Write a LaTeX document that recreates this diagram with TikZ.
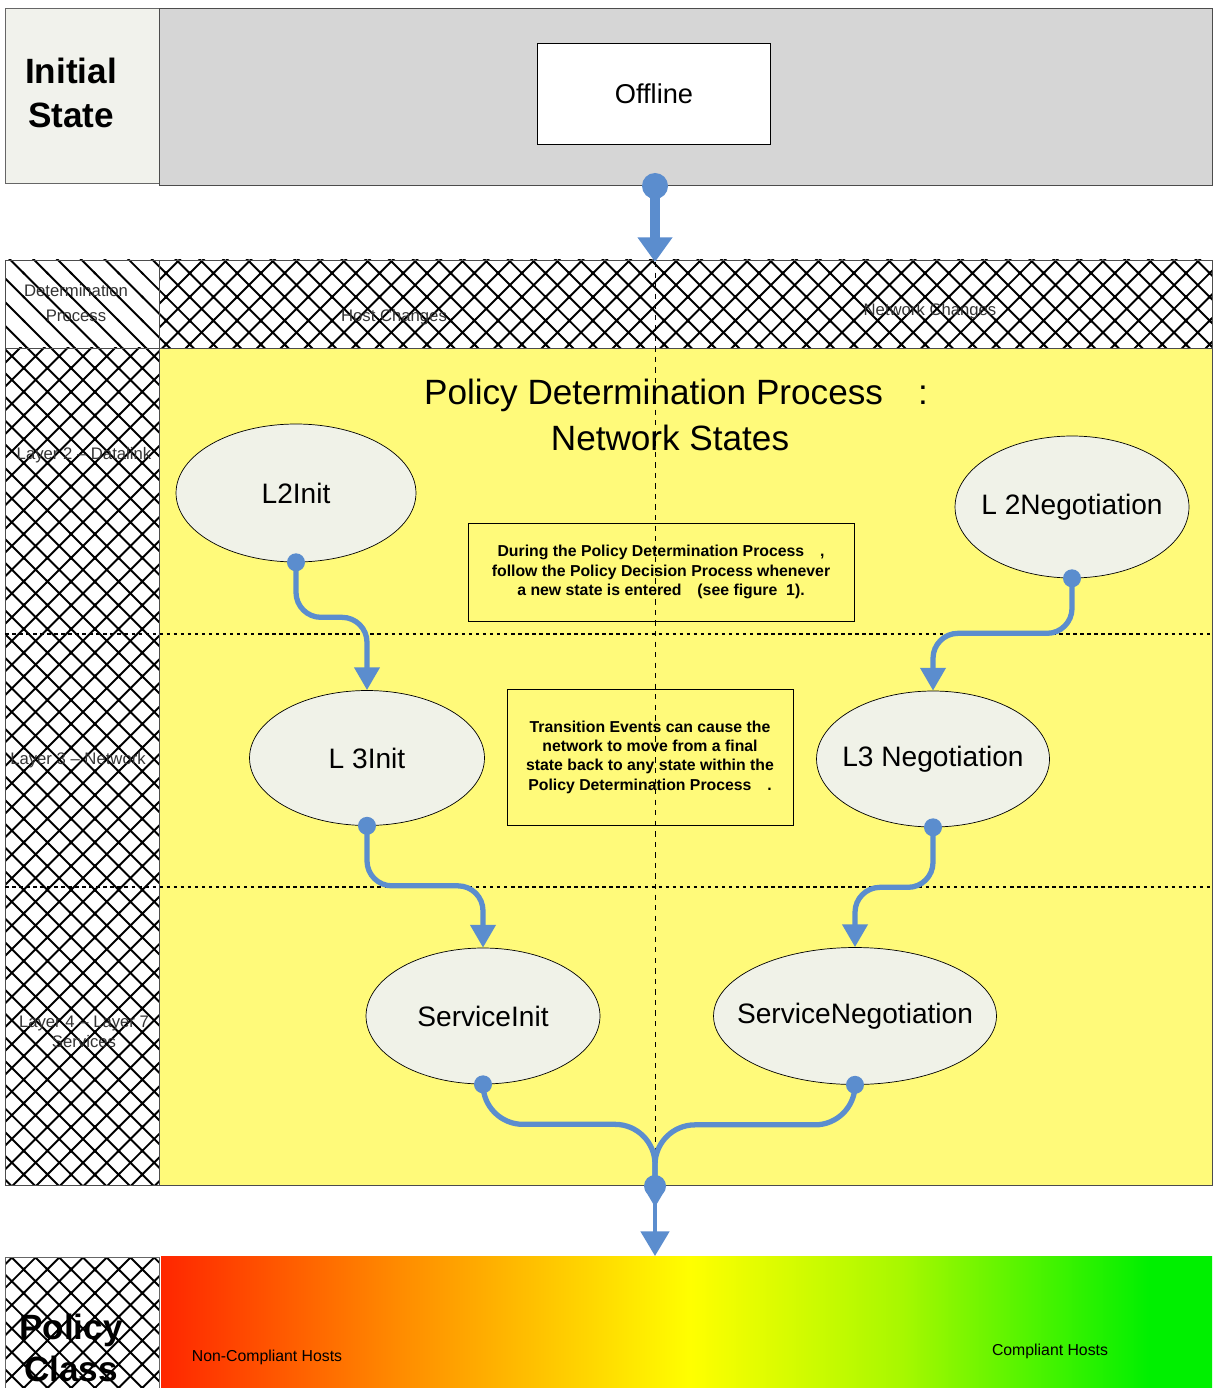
\documentclass[tikz,border=0pt]{standalone}
\usepackage{fontspec}
\setmainfont{Liberation Sans}
\usetikzlibrary{arrows.meta,patterns,shapes.geometric,positioning}

\definecolor{flowblue}{RGB}{91,141,206}
\definecolor{lanefill}{RGB}{255,250,122}
\definecolor{statefill}{RGB}{240,242,232}
\definecolor{bandgray}{RGB}{214,214,214}
\definecolor{hdrfill}{RGB}{241,242,236}
\definecolor{noncomp}{RGB}{255,38,0}
\definecolor{midorange}{RGB}{255,140,0}
\definecolor{midyellow}{RGB}{255,255,0}
\definecolor{midlime}{RGB}{168,248,0}
\definecolor{compgreen}{RGB}{0,240,0}

\pgfdeclarehorizontalshading{compliance}{100bp}{color(0bp)=(noncomp); color(25bp)=(noncomp); color(36.4bp)=(midorange); color(50.2bp)=(midyellow); color(60.2bp)=(midlime); color(72bp)=(compgreen); color(100bp)=(compgreen)}

\pgfdeclarepatternformonly{diamondmesh}{\pgfpoint{-1pt}{-1pt}}{\pgfpoint{14.5pt}{14.5pt}}{\pgfpoint{13.5pt}{13.5pt}}{
	\pgfsetlinewidth{1.1pt}
	\pgfpathmoveto{\pgfqpoint{-1pt}{-1pt}}\pgfpathlineto{\pgfqpoint{14.5pt}{14.5pt}}
	\pgfpathmoveto{\pgfqpoint{-1pt}{14.5pt}}\pgfpathlineto{\pgfqpoint{14.5pt}{-1pt}}
	\pgfusepath{stroke}}
\pgfdeclarepatternformonly{widenwlines}{\pgfpoint{-1pt}{-1pt}}{\pgfpoint{14.5pt}{14.5pt}}{\pgfpoint{13.5pt}{13.5pt}}{
	\pgfsetlinewidth{1.1pt}
	\pgfpathmoveto{\pgfqpoint{-1pt}{14.5pt}}\pgfpathlineto{\pgfqpoint{14.5pt}{-1pt}}
	\pgfusepath{stroke}}

\tikzset{
	netstate/.style={ellipse,draw,thin,fill=statefill,inner xsep=-1.6cm,inner ysep=0,font=\fontsize{16}{18}\selectfont},
	notebox/.style={draw,thin,align=center,inner sep=0,font=\bfseries\fontsize{9}{11}\selectfont},
	lanelabel/.style={align=center,text=black!80,font=\fontsize{9.5}{14.5}\selectfont},
	biglabel/.style={align=center,font=\bfseries\fontsize{20}{25}\selectfont},
	flow/.style={draw=flowblue,line width=3pt,rounded corners=0.5cm,-{Triangle[width=14pt,length=13pt]}},
	port/.style={fill=flowblue},
	lanediv/.style={line width=0.7pt,dash pattern=on 2pt off 2pt}
}

\begin{document}
\begin{tikzpicture}[x=0.02cm,y=-0.02cm]
	\useasboundingbox (0,0) rectangle (1215,1388);
	\fill[white] (0,0) rectangle (1215,1388);
	
	%%% initial state band
	\draw[black!60,fill=hdrfill] (5,8) rectangle (159,183);
	\draw[black!70,fill=bandgray] (159,8) rectangle (1212,185);
	\node[biglabel] (initial) at (71,93) {Initial\\State};
	\node[draw,thin,fill=white,minimum width=4.66cm,minimum height=2.02cm,font=\fontsize{15.5}{18}\selectfont] (offline) at (654,94) {Offline};
	
	%%% lanes of the determination process
	\draw[black!70,pattern=widenwlines] (5,260) rectangle (159,348);
	\draw[black!70,pattern=diamondmesh] (159,260) rectangle (1212,348);
	\draw[black!70,pattern=diamondmesh] (5,348) rectangle (159,1185);
	\draw[black!70,fill=lanefill] (159,348) rectangle (1212,1185);
	\draw[lanediv] (5,634) -- (1212,634);
	\draw[lanediv] (5,887) -- (1212,887);
	\draw[dashed,thin] (655,262) -- (655,1185);
	
	\node[lanelabel] (detproc) at (76,303) {Determination\\Process};
	\node[lanelabel] (hostchg) at (394,317) {Host Changes};
	\node[lanelabel] (netchg) at (930,311) {Network Changes};
	\node[lanelabel] (layer2) at (84,455) {Layer 2 -- Datalink};
	\node[lanelabel] (layer3) at (78,760) {Layer 3 -- Network};
	\node[lanelabel,font=\fontsize{9.5}{11.3}\selectfont] (layer47) at (84,1032) {Layer 4 -- Layer 7\\Services};
	
	%%% title
	\node[font=\fontsize{20}{24}\selectfont] (title) at (676,395) {Policy Determination Process\hspace{20pt}:};
	\node[font=\fontsize{20}{24}\selectfont] (subtitle) at (670,438) {Network States};
	
	%%% states
	\node[netstate,minimum width=4.8cm,minimum height=2.76cm] (l2init) at (296,493) {L2Init};
	\node[netstate,minimum width=4.68cm,minimum height=2.84cm] (l2neg) at (1072,507) {L 2Negotiation};
	\node[netstate,minimum width=4.7cm,minimum height=2.7cm] (l3init) at (367,758) {L 3Init};
	\node[netstate,minimum width=4.66cm,minimum height=2.72cm] (l3neg) at (933,759) {L3 Negotiation};
	\node[netstate,minimum width=4.68cm,minimum height=2.72cm] (serviceinit) at (483,1016) {ServiceInit};
	\node[netstate,minimum width=5.66cm,minimum height=2.74cm] (serviceneg) at (855,1016) {ServiceNegotiation};
	
	%%% notes
	\node[notebox,minimum width=7.72cm,minimum height=1.96cm] (note1) at (661,572) {During the Policy Determination Process\quad,\\follow the Policy Decision Process whenever\\a new state is entered\quad(see figure\ \ 1).};
	\node[notebox,minimum width=5.72cm,minimum height=2.72cm] (note2) at (650,757) {Transition Events can cause the\\network to move from a final\\state back to any state within the\\Policy Determination Process\quad.};
	
	%%% transitions
	\coordinate (offout) at (655,186);
	\coordinate (detin) at (655,262);
	\fill[port] (offout) circle (13);
	\draw[flow,line width=5.5pt,-{Triangle[width=19pt,length=14pt]}] (offout) -- (detin);
	
	\fill[port] (l2init.south) circle (9);
	\draw[flow] (l2init.south) -- ++(0,55) -| (l3init.north);
	\fill[port] (l2neg.south) circle (9);
	\draw[flow] (l2neg.south) -- ++(0,55) -| (l3neg.north);
	\fill[port] (l3init.south) circle (9);
	\draw[flow] (l3init.south) -- ++(0,60) -| (serviceinit.north);
	\fill[port] (l3neg.south) circle (9);
	\draw[flow] (l3neg.south) -- ++(0,60) -| (serviceneg.north);
	
	\coordinate (merge) at (655,1186);
	\fill[port] (serviceinit.south) circle (9);
	\draw[flow,-,rounded corners=0.8cm] (serviceinit.south) -- ++(0,40) -| (merge);
	\fill[port] (serviceneg.south) circle (9);
	\draw[flow,-,rounded corners=0.8cm] (serviceneg.south) -- ++(0,40) -| (merge);
	\fill[port] (merge) circle (11);
	\fill[port] (merge) ++(-10,4) -- ++(20,0) -- ++(-10,17) -- cycle;
	\coordinate (policyin) at (655,1256);
	\draw[flow,line width=2.4pt,-{Triangle[width=16pt,length=14pt]}] (merge) -- (policyin);
	
	%%% policy class bar
	\begin{scope}
		\clip (0,1250) rectangle (1215,1388);
		\draw[black!60,pattern=diamondmesh] (5,1257) rectangle (159,1400);
		\node[biglabel,font=\bfseries\fontsize{20}{23.5}\selectfont] (policyclass) at (71,1348) {Policy\\Class};
	\end{scope}
	\shade[shading=compliance] (161,1256) rectangle (1212,1388);
	\node[font=\fontsize{9}{11}\selectfont] (noncomphosts) at (267,1357) {Non-Compliant Hosts};
	\node[font=\fontsize{9}{11}\selectfont] (comphosts) at (1050,1351) {Compliant Hosts};
\end{tikzpicture}
\end{document}
